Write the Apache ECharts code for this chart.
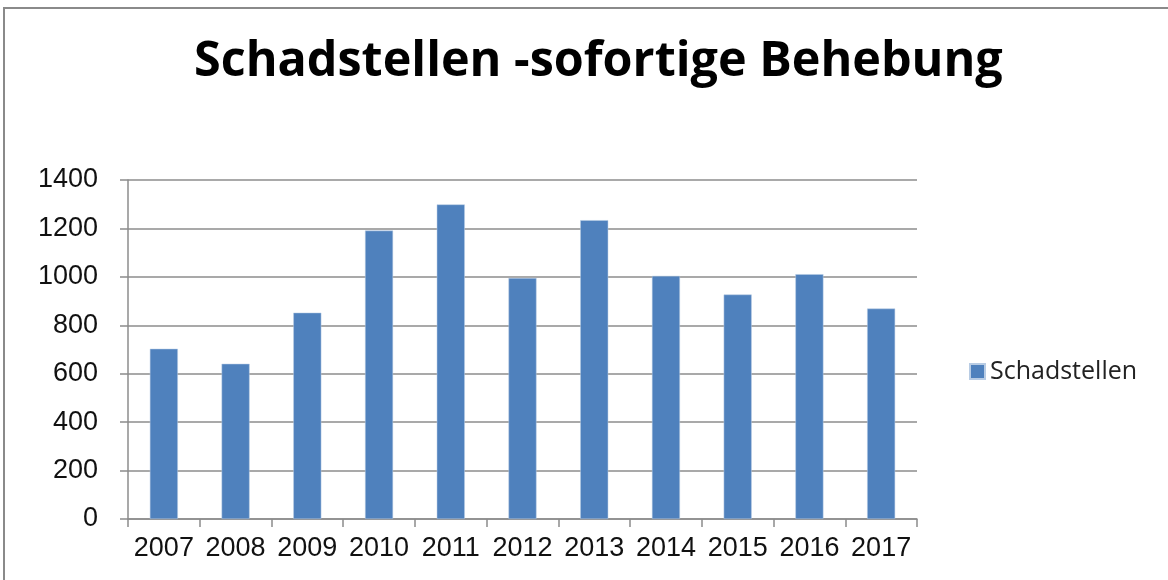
<!DOCTYPE html>
<html>
<head>
<meta charset="utf-8">
<script src="https://cdn.jsdelivr.net/npm/echarts@6/dist/echarts.min.js"></script>
<style>
  html, body { margin: 0; padding: 0; background: #fff; }
  #chart { width: 1168px; height: 580px; }
</style>
</head>
<body>
<div id="chart"></div>
<script>
const years = ['2007', '2008', '2009', '2010', '2011', '2012', '2013', '2014', '2015', '2016', '2017'];
const schadstellen = [703, 641, 852, 1191, 1299, 995, 1234, 1004, 927, 1011, 869];

const chart = echarts.init(document.getElementById('chart'));

const axisGray = '#8c8c8c';

chart.setOption({
  backgroundColor: '#fff',
  animation: false,
  graphic: [
    {
      type: 'rect',
      shape: { x: 4, y: 8, width: 1180, height: 590 },
      style: { fill: 'none', stroke: '#8a8a8a', lineWidth: 2 },
      silent: true
    }
  ],
  title: {
    text: 'Schadstellen -sofortige Behebung',
    left: 189,
    top: 33,
    textStyle: {
      fontFamily: 'Open Sans',
      fontWeight: 'bold',
      fontSize: 48.5,
      color: '#000'
    }
  },
  legend: {
    data: ['Schadstellen'],
    orient: 'vertical',
    left: 964,
    top: 354,
    icon: 'rect',
    itemWidth: 15,
    itemHeight: 15,
    textStyle: { fontFamily: 'Open Sans', fontSize: 25, color: '#222' }
  },
  grid: {
    left: 128,
    right: 251,
    top: 180,
    bottom: 61
  },
  xAxis: {
    type: 'category',
    data: years,
    axisLine: { lineStyle: { color: axisGray, width: 1.5 } },
    axisTick: { show: true, length: 8, lineStyle: { color: axisGray, width: 1.5 } },
    axisLabel: {
      fontFamily: 'Liberation Sans',
      fontSize: 27,
      color: '#111',
      margin: 16,
      interval: 0
    }
  },
  yAxis: {
    type: 'value',
    min: 0,
    max: 1400,
    interval: 200,
    axisLine: { show: true, lineStyle: { color: axisGray, width: 1.5 } },
    axisTick: { show: true, length: 8, lineStyle: { color: axisGray, width: 1.5 } },
    splitLine: { lineStyle: { color: axisGray, width: 1.5 } },
    axisLabel: {
      fontFamily: 'Liberation Sans',
      fontSize: 27,
      color: '#111',
      margin: 30,
      formatter: v => String(v)
    }
  },
  series: [
    {
      name: 'Schadstellen',
      type: 'bar',
      data: schadstellen,
      barWidth: 28,
      itemStyle: {
        color: '#4f81bd',
        borderColor: '#b8cce4',
        borderWidth: 0.5
      }
    }
  ]
});
</script>
</body>
</html>
